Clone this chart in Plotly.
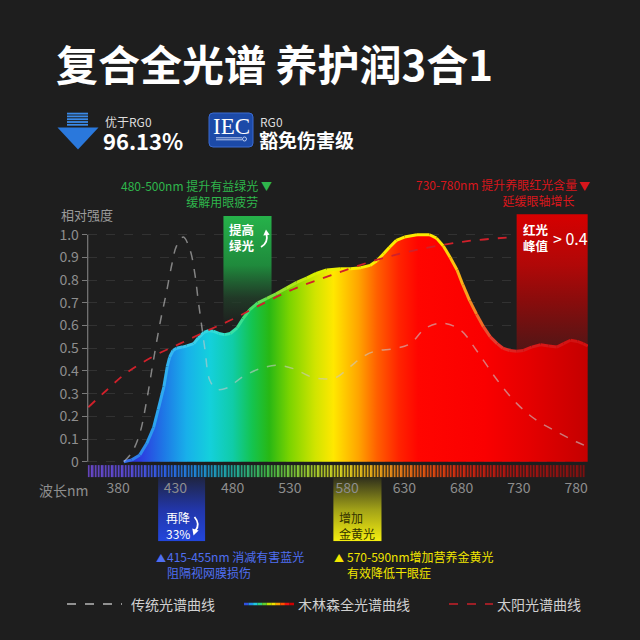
import numpy as np
import plotly.graph_objects as go

W, H = 640, 640
CJK = "Noto Sans CJK SC"
BG = "#1e1e1e"

# ---- data ----
full_nm = [385, 392, 399, 405, 411, 415, 420, 423, 425, 428, 431, 436, 440, 446, 450, 455,
           459, 463, 468, 473, 478, 484, 489, 495, 502, 510, 518, 527, 536, 545, 553, 562,
           574, 583, 592, 600, 606, 612, 617, 623, 630, 641, 652, 658, 664, 670, 676, 681,
           687, 693, 699, 705, 711, 716, 722, 728, 734, 741, 749, 756, 763, 769, 775, 781,
           786, 790]
full_val = [0.0, 0.008, 0.03, 0.08, 0.15, 0.23, 0.33, 0.42, 0.46, 0.49, 0.50, 0.505, 0.51, 0.52,
            0.545, 0.57, 0.578, 0.575, 0.565, 0.56, 0.565, 0.59, 0.63, 0.67, 0.70, 0.72, 0.74,
            0.765, 0.79, 0.81, 0.83, 0.845, 0.85, 0.85, 0.855, 0.865, 0.885, 0.917, 0.945,
            0.975, 0.99, 1.0, 1.0, 0.985, 0.95, 0.90, 0.845, 0.78, 0.71, 0.65, 0.595, 0.55,
            0.52, 0.50, 0.49, 0.487, 0.49, 0.505, 0.515, 0.51, 0.505, 0.52, 0.535, 0.53,
            0.52, 0.51]

trad_nm = [385, 392, 399, 405, 411, 417, 422, 427, 431, 437, 443, 447, 450, 453, 456, 460,
           466, 475, 489, 504, 519, 533, 548, 559, 570, 583, 593, 603, 623, 635, 649, 664,
           679, 693, 711, 728, 745, 763, 780, 790]
trad_val = [0.0, 0.04, 0.125, 0.27, 0.45, 0.62, 0.74, 0.87, 0.95, 0.99, 0.93, 0.83, 0.71,
            0.60, 0.49, 0.36, 0.32, 0.325, 0.375, 0.41, 0.425, 0.41, 0.375, 0.365, 0.37,
            0.42, 0.46, 0.485, 0.50, 0.52, 0.59, 0.61, 0.58, 0.49, 0.36, 0.257, 0.184,
            0.132, 0.088, 0.066]

sun_nm = [354, 370, 387, 411, 434, 457, 481, 504, 533, 565, 603, 638, 682, 727]
sun_val = [0.24, 0.315, 0.39, 0.465, 0.52, 0.575, 0.63, 0.69, 0.76, 0.82, 0.885, 0.93, 0.97, 0.99]

x_ticks = [380, 430, 480, 530, 580, 630, 680, 730, 780]
y_ticks = [0, 0.1, 0.2, 0.3, 0.4, 0.5, 0.6, 0.7, 0.8, 0.9, 1.0]
y_ticktext = ["0", "0.1", "0.2", "0.3", "0.4", "0.5", "0.6", "0.7", "0.8", "0.9", "1.0"]

blue_band = (415, 456)
green_band = (472, 514)
yellow_band = (568, 610)
red_band = (728, 790)

X_RANGE = [353.5, 790.3]
Y_RANGE = [-0.35, 1.12]

# colour stops along wavelength
fill_stops = [(380, "#2a1ec8"), (400, "#2c3ee0"), (420, "#1e78e6"), (440, "#18b0ea"),
              (460, "#14d0dc"), (480, "#10cca8"), (497, "#14c450"), (512, "#28b814"),
              (530, "#7cd400"), (552, "#d0e400"), (568, "#ffe800"), (590, "#ffa400"),
              (606, "#ff6000"), (625, "#ff2400"), (642, "#ff0500"), (700, "#fa0000"),
              (740, "#e40000"), (790, "#c40000")]
outline_stops = [(380, "#3a5ae8"), (410, "#2aa0f0"), (440, "#3ccaf2"), (470, "#30e0d0"),
                 (495, "#40e070"), (520, "#90e030"), (550, "#d8f000"), (580, "#f8f000"),
                 (660, "#ffe800"), (685, "#f8a020"), (705, "#e84030"), (730, "#dc1c1c"),
                 (790, "#d01010")]
stripe_stops = [(354, "#6a48c8"), (390, "#5a4ad8"), (420, "#2c5ee8"), (450, "#1e88d8"),
                (480, "#1eaaa0"), (510, "#40b848"), (545, "#98cc30"), (575, "#d8d020"),
                (600, "#e8b018"), (625, "#e88018"), (650, "#e05010"), (680, "#d02810"),
                (720, "#b01410"), (790, "#801010")]


def scale(stops):
    lo, hi = stops[0][0], stops[-1][0]
    return [[(n - lo) / (hi - lo), c] for n, c in stops]


def hex_rgb(c):
    return [int(c[i:i + 2], 16) for i in (1, 3, 5)]


def color_at(stops, nm):
    ns = [s[0] for s in stops]
    rgb = np.array([hex_rgb(s[1]) for s in stops])
    r, g, b = (int(np.interp(nm, ns, rgb[:, k])) for k in range(3))
    return f"rgb({r},{g},{b})"


def px(x):
    return x / W


def py(y):
    return 1 - y / H


def P(x, y):
    return f"{px(x)} {py(y)}"


def box(band, y0, y1, stops):
    x0, x1 = band
    return go.Scatter(x=[x0, x1, x1, x0, x0], y=[y0, y0, y1, y1, y0], mode="lines",
                      fill="toself", line=dict(width=0),
                      fillgradient=dict(type="vertical", colorscale=stops),
                      hoverinfo="skip", showlegend=False)


fig = go.Figure()

# spectrum stripe bar under the axis
edges = np.arange(X_RANGE[0], X_RANGE[1] + 0.1, 2.9)
centers = (edges[:-1] + edges[1:]) / 2
fig.add_trace(go.Heatmap(x=edges, y=[-0.067, -0.015], z=[centers], colorscale=scale(stripe_stops),
                         zmin=stripe_stops[0][0], zmax=stripe_stops[-1][0], xgap=1.3,
                         showscale=False, hoverinfo="skip"))

# highlight boxes
fig.add_trace(box(green_band, 0.6, 1.082,
                  [[0, "rgba(33,60,40,0)"], [0.25, "rgba(33,60,40,0.9)"],
                   [0.55, "#1f8a3c"], [1, "#26b24a"]]))
fig.add_trace(box(red_band, 0.45, 1.09,
                  [[0, "#4a1616"], [0.13, "#5c1414"], [0.41, "#8a0c0c"],
                   [0.65, "#b00808"], [1, "#d60000"]]))
fig.add_trace(box(blue_band, -0.35, -0.068,
                  [[0, "#2246dc"], [0.5, "#2236a8"], [1, "#1f2540"]]))
fig.add_trace(box(yellow_band, -0.35, -0.068,
                  [[0, "#f4ee10"], [0.5, "#a0a018"], [1, "#2e2e1c"]]))

# full spectrum fill
fig.add_trace(go.Scatter(x=full_nm, y=full_val, mode="lines", fill="tozeroy",
                         line=dict(width=0),
                         fillgradient=dict(type="horizontal", colorscale=scale(fill_stops),
                                           start=fill_stops[0][0], stop=fill_stops[-1][0]),
                         hoverinfo="skip", showlegend=False))
# coloured outline, one segment per pair of points
for i in range(len(full_nm) - 1):
    mid = (full_nm[i] + full_nm[i + 1]) / 2
    fig.add_trace(go.Scatter(x=full_nm[i:i + 2], y=full_val[i:i + 2], mode="lines",
                             line=dict(color=color_at(outline_stops, mid), width=3),
                             hoverinfo="skip", showlegend=False))

fig.add_trace(go.Scatter(x=trad_nm, y=trad_val, mode="lines", line_shape="spline",
                         line=dict(color="rgba(200,200,200,0.6)", width=1.5, dash="dash"),
                         hoverinfo="skip", showlegend=False))
fig.add_trace(go.Scatter(x=sun_nm, y=sun_val, mode="lines", line_shape="spline",
                         line=dict(color="#d0202a", width=1.8, dash="dash"),
                         hoverinfo="skip", showlegend=False))

shapes = []
# y axis line from 0 to 1.0
shapes.append(dict(type="line", xref="x domain", yref="y", x0=0, x1=0, y0=0, y1=1.0,
                   line=dict(color="#7a7a7a", width=1.2)))

# down arrow icon
for k in range(5):
    y0 = 112.7 + k * 2.8
    shapes.append(dict(type="rect", xref="paper", yref="paper", x0=px(67), x1=px(88),
                       y0=py(y0), y1=py(y0 + 1.8), line=dict(width=0), fillcolor="#3a8ae8"))
shapes.append(dict(type="path", xref="paper", yref="paper", line=dict(width=0),
                   fillcolor="#2a78dc",
                   path=f"M {P(57.5, 127.5)} L {P(98.5, 127.5)} L {P(78, 149.5)} Z"))
# IEC badge
x0b, x1b, y0b, y1b, r = 209, 253, 113, 147, 4
shapes.append(dict(type="path", xref="paper", yref="paper",
                   line=dict(color="#3a6ad0", width=1), fillcolor="#1c4aa8",
                   path=(f"M {P(x0b + r, y0b)} L {P(x1b - r, y0b)} Q {P(x1b, y0b)} {P(x1b, y0b + r)} "
                         f"L {P(x1b, y1b - r)} Q {P(x1b, y1b)} {P(x1b - r, y1b)} "
                         f"L {P(x0b + r, y1b)} Q {P(x0b, y1b)} {P(x0b, y1b - r)} "
                         f"L {P(x0b, y0b + r)} Q {P(x0b, y0b)} {P(x0b + r, y0b)} Z")))
for yy in (137.8, 139.8):
    shapes.append(dict(type="line", xref="paper", yref="paper", x0=px(216), x1=px(242),
                       y0=py(yy), y1=py(yy), line=dict(color="#dfe8ff", width=0.8)))
shapes.append(dict(type="circle", xref="paper", yref="paper", x0=px(242.5), x1=px(246.5),
                   y0=py(137), y1=py(141), line=dict(color="#dfe8ff", width=0.8),
                   fillcolor="#1c4aa8"))

# curved arrows in the green and blue boxes
shapes.append(dict(type="path", xref="paper", yref="paper", line=dict(color="#ffffff", width=1.8),
                   path=f"M {P(261, 247)} Q {P(268.5, 243)} {P(266.5, 234)}"))
shapes.append(dict(type="path", xref="paper", yref="paper", line=dict(width=0), fillcolor="#ffffff",
                   path=f"M {P(263.3, 235.5)} L {P(269.6, 234.8)} L {P(266, 229.5)} Z"))
shapes.append(dict(type="path", xref="paper", yref="paper", line=dict(color="#ffffff", width=1.8),
                   path=f"M {P(194.5, 517)} Q {P(200.5, 524)} {P(195.5, 530.5)}"))
shapes.append(dict(type="path", xref="paper", yref="paper", line=dict(width=0), fillcolor="#ffffff",
                   path=f"M {P(192.3, 528.5)} L {P(198.6, 530.5)} L {P(193.5, 535.5)} Z"))

# legend samples
shapes.append(dict(type="line", xref="paper", yref="paper", x0=px(67), x1=px(122),
                   y0=py(604), y1=py(604), line=dict(color="#b8b8b8", width=1.5, dash="dash")))
shapes.append(dict(type="line", xref="paper", yref="paper", x0=px(449), x1=px(493),
                   y0=py(604), y1=py(604), line=dict(color="#c8202a", width=1.5, dash="dash")))
leg_cols = ["#3050e0", "#2090e8", "#20c8e0", "#30d080", "#60d030", "#c0e000",
            "#f0e000", "#ffa000", "#ff5000", "#f01010", "#d00000"]
seg = (294 - 244) / len(leg_cols)
for k, c in enumerate(leg_cols):
    shapes.append(dict(type="line", xref="paper", yref="paper", x0=px(244 + k * seg),
                       x1=px(244 + (k + 1) * seg), y0=py(604), y1=py(604),
                       line=dict(color=c, width=2.5)))

ann = []


def text(x, y, s, size, color, anchor="left", weight="normal", family=CJK, align="left",
         yanchor="middle"):
    ann.append(dict(x=px(x), y=py(y), xref="paper", yref="paper", text=s, showarrow=False,
                    xanchor=anchor, yanchor=yanchor, align=align, borderpad=0,
                    font=dict(size=size, color=color, family=family, weight=weight)))


text(55, 62, "复合全光谱 养护润3合1", 42, "#ffffff", weight="bold")
text(104, 121, "优于RG0", 12, "#dddddd")
text(102, 139.5, "96.13%", 22, "#ffffff", weight="bold")
text(231, 126, "IEC", 23, "#ffffff", anchor="center", family="Liberation Serif")
text(259, 121, "RG0", 12, "#dddddd")
text(258, 139.5, "豁免伤害级", 19, "#ffffff", weight="bold")

text(259, 193.5, "480-500nm 提升有益绿光<br>缓解用眼疲劳", 12, "#2fb64c",
     anchor="right", align="right")
text(266, 186, "▼", 11, "#2fb64c", anchor="center")
text(578, 193, "730-780nm 提升养眼红光含量<br>延缓眼轴增长\u00a0", 12, "#d8161c",
     anchor="right", align="right")
text(584, 186, "▼", 11, "#d8161c", anchor="center")

text(60, 214.5, "相对强度", 13, "#9a9a9a")
text(228, 237.5, "<b>提高<br>绿光</b>", 12.5, "#ffffff")
text(522, 237.5, "<b>红光<br>峰值</b>", 12.5, "#ffffff")
text(552, 238, "> 0.4", 16, "#ffffff")

text(64, 490, "波长nm", 14, "#8e8e8e", anchor="center")
text(165, 525, "再降<br>33%", 12, "#ffffff")
text(338, 525, "增加<br>金黄光", 12, "#333300")

text(155, 557, "▲", 10, "#4f6ff2")
text(166, 564.5, "415-455nm 消减有害蓝光<br>阻隔视网膜损伤", 12, "#4f6ff2")
text(333, 557, "▲", 10, "#f2e600")
text(346, 564.5, "570-590nm增加营养金黄光<br>有效降低干眼症", 12, "#f2e600")

text(130, 604, "传统光谱曲线", 14, "#d0d0d0")
text(297, 604, "木林森全光谱曲线", 14, "#d0d0d0")
text(496, 604, "太阳光谱曲线", 14, "#d0d0d0")

fig.update_layout(
    width=W, height=H,
    margin=dict(l=0, r=0, t=0, b=0),
    paper_bgcolor=BG, plot_bgcolor=BG,
    showlegend=False,
    xaxis=dict(range=X_RANGE, domain=[87.7 / W, 588 / W], anchor="free",
               position=1 - 477.6 / H, tickvals=x_ticks, ticks="", showgrid=False,
               zeroline=False, showline=False,
               tickfont=dict(size=14, color="#8e8e8e", family=CJK)),
    yaxis=dict(range=Y_RANGE, domain=[1 - 541.15 / H, 1 - 207.5 / H], tickvals=y_ticks,
               ticktext=y_ticktext, ticks="outside", ticklen=5, tickcolor="#7a7a7a",
               tickwidth=1.2, showgrid=True, gridcolor="rgba(255,255,255,0.09)",
               griddash="dash", zeroline=False, showline=False,
               tickfont=dict(size=14, color="#8e8e8e", family=CJK)),
    shapes=shapes,
    annotations=ann,
)

fig.write_html("out.html", config={"displayModeBar": False},
               post_script="document.body.style.margin='0';document.body.style.background='#1e1e1e';")
